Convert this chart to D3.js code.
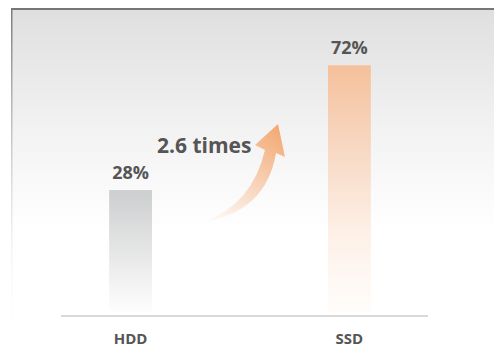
<!DOCTYPE html>
<html><head><meta charset="utf-8">
<script src="https://cdn.jsdelivr.net/npm/d3@7"></script>
<style>html,body{margin:0;padding:0;background:#fff;overflow:hidden}</style>
</head><body>
<script>
const categories = ["HDD", "SSD"];
const values = [28, 72];
const valueLabels = ["28%", "72%"];
const ratioLabel = "2.6 times";

const W = 494, H = 350;
const svg = d3.select("body").append("svg").attr("width", W).attr("height", H);
const defs = svg.append("defs");

const bg = defs.append("linearGradient").attr("id","bg").attr("x1",0).attr("y1",0).attr("x2",0).attr("y2",1);
bg.append("stop").attr("offset","0%").attr("stop-color","#dfdfdf");
bg.append("stop").attr("offset","35%").attr("stop-color","#f2f2f2");
bg.append("stop").attr("offset","65%").attr("stop-color","#ffffff");
const lb = defs.append("linearGradient").attr("id","lb").attr("x1",0).attr("y1",0).attr("x2",0).attr("y2",1);
lb.append("stop").attr("offset","0%").attr("stop-color","#7a7a7a");
lb.append("stop").attr("offset","100%").attr("stop-color","#ffffff").attr("stop-opacity",0);

const g0 = defs.append("linearGradient").attr("id","gHDD").attr("x1",0).attr("y1",0).attr("x2",0).attr("y2",1);
g0.append("stop").attr("offset","0%").attr("stop-color","#cdcecf");
g0.append("stop").attr("offset","100%").attr("stop-color","#cdcecf").attr("stop-opacity",0.03);
const g1 = defs.append("linearGradient").attr("id","gSSD").attr("x1",0).attr("y1",0).attr("x2",0).attr("y2",1);
g1.append("stop").attr("offset","0%").attr("stop-color","#f6c09b");
g1.append("stop").attr("offset","100%").attr("stop-color","#fde3cf").attr("stop-opacity",0.1);

const ga = defs.append("linearGradient").attr("id","gArrow").attr("gradientUnits","userSpaceOnUse")
  .attr("x1",205).attr("y1",222).attr("x2",280).attr("y2",130);
ga.append("stop").attr("offset","0%").attr("stop-color","#f6b68a").attr("stop-opacity",0);
ga.append("stop").attr("offset","100%").attr("stop-color","#f4aa74").attr("stop-opacity",1);

// panel
svg.append("rect").attr("x",11).attr("y",8).attr("width",W-11).attr("height",H-8).attr("fill","url(#bg)");
svg.append("rect").attr("x",11).attr("y",8).attr("width",W-11).attr("height",2).attr("fill","#767676");
svg.append("rect").attr("x",11).attr("y",8).attr("width",1.5).attr("height",H-8).attr("fill","url(#lb)");

const x = d3.scaleBand().domain(categories).range([61, 419]).paddingInner(0.804).paddingOuter(0.22);
const y = d3.scaleLinear().domain([-15, 80]).range([312, 42.6]);
const gradIds = ["gHDD","gSSD"];

svg.selectAll("rect.bar").data(values).join("rect").attr("class","bar")
  .attr("x",(d,i)=>x(categories[i])).attr("width",x.bandwidth())
  .attr("y",d=>y(d)).attr("height",d=>y(-15)-y(d))
  .attr("fill",(d,i)=>`url(#${gradIds[i]})`);

svg.selectAll("text.val").data(values).join("text").attr("class","val")
  .attr("x",(d,i)=>x(categories[i])+x.bandwidth()/2).attr("y",d=>y(d)-11)
  .attr("text-anchor","middle").attr("font-family","Open Sans").attr("font-weight","bold")
  .attr("font-size",18).attr("fill","#555").text((d,i)=>valueLabels[i]);

// axis
const axisG = svg.append("g").attr("transform","translate(0,316)");
axisG.call(d3.axisBottom(x).tickSize(0).tickPadding(17));
axisG.select(".domain").remove();
axisG.append("line").attr("x1",61).attr("x2",428).attr("y1",0).attr("y2",0).attr("stroke","#d9d9d9").attr("stroke-width",2);
axisG.selectAll(".tick text").attr("font-family","Open Sans").attr("font-weight","bold")
  .attr("font-size",15).attr("fill","#555");

// arrow
const arrow = d3.path();
arrow.moveTo(203,222);
arrow.quadraticCurveTo(252,205,265,150);
arrow.lineTo(255,145);
arrow.lineTo(278,124);
arrow.lineTo(285,157);
arrow.lineTo(276,153);
arrow.quadraticCurveTo(266,212,203,222);
arrow.closePath();
svg.append("path").attr("d",arrow.toString()).attr("fill","url(#gArrow)");

svg.append("text").attr("x",157).attr("y",153).attr("font-family","Open Sans").attr("font-weight","bold")
  .attr("font-size",21).attr("fill","#555").text(ratioLabel);
</script>
</body></html>
